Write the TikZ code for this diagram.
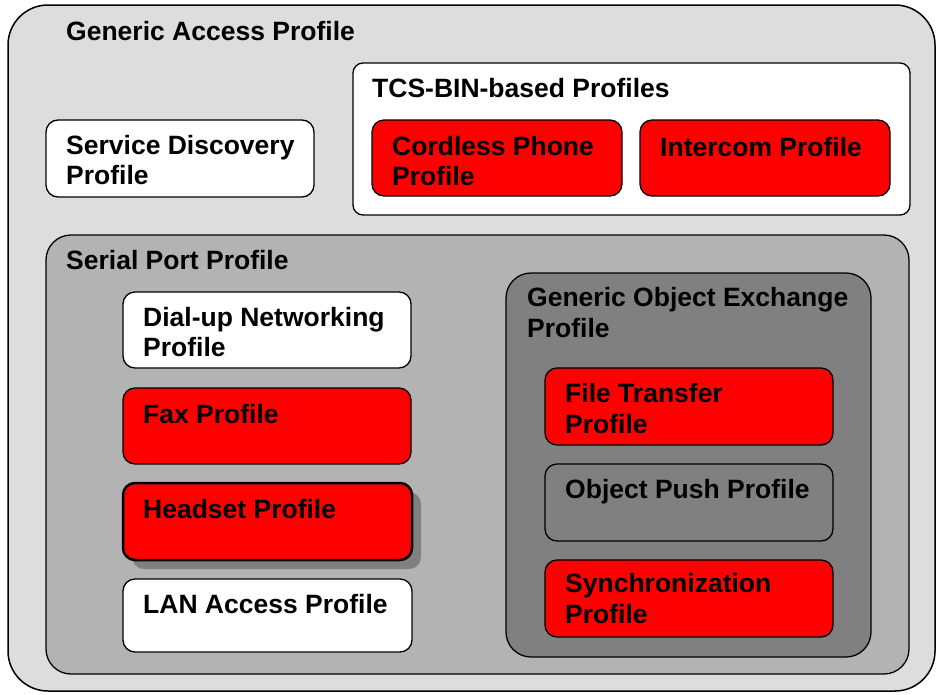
\documentclass[tikz,border=0pt]{standalone}
\usepackage{fontspec}
\setmainfont{Liberation Sans}
\usetikzlibrary{fit,shadows}
\definecolor{gapgray}{HTML}{DDDDDD}
\definecolor{sppgray}{HTML}{B3B3B3}
\definecolor{goepgray}{HTML}{808080}
\definecolor{profred}{HTML}{FF0000}
\begin{document}
\begin{tikzpicture}[x=1pt,y=-1pt,
  frame/.style={draw=black, line width=1.3pt, inner sep=0pt},
  pbox/.style={frame, rounded corners=12pt},
  % multi-line labels sit on the baseline of their last line
  title/.style={anchor=base west, inner sep=0pt, align=left,
    font=\fontsize{26.5}{30.5}\selectfont\bfseries},
]
\useasboundingbox (0,0) rectangle (937,694);

% Generic Access Profile (outermost layer)
\node[frame, line width=1.5pt, rounded corners=40pt, fill=gapgray, fit={(8,5)(935,691)}] (gap) {};
\node[title] (gapT) at (66,40) {Generic Access Profile};

% Service Discovery
\node[pbox, fill=white, fit={(46,120)(314,197)}] (sdp) {};
\node[title] (sdpT) at (66,184.5) {Service Discovery\\Profile};

% TCS-BIN group
\node[frame, rounded corners=10pt, fill=white, fit={(353,63)(910,215)}] (tcs) {};
\node[title] (tcsT) at (372,97) {TCS-BIN-based Profiles};
\node[pbox, fill=profred, fit={(372,120)(622,196)}] (ctp) {};
\node[title] (ctpT) at (392,185.5) {Cordless Phone\\Profile};
\node[pbox, fill=profred, fit={(640,120)(890,196)}] (icp) {};
\node[title] (icpT) at (660,156) {Intercom Profile};

% Serial Port Profile
\node[frame, rounded corners=25pt, fill=sppgray, fit={(46,235)(909,674)}] (spp) {};
\node[title] (sppT) at (66,269) {Serial Port Profile};
\node[pbox, fill=white, fit={(123,292)(411,368)}] (dun) {};
\node[title] (dunT) at (143,356.5) {Dial-up Networking\\Profile};
\node[pbox, fill=profred, fit={(123,388)(411,464)}] (fax) {};
\node[title] (faxT) at (143,423) {Fax Profile};
\node[pbox, fill=profred, line width=2.5pt,
  drop shadow={shadow xshift=9pt, shadow yshift=-9pt, fill=goepgray, opacity=1},
  fit={(123,483)(412,560)}] (hsp) {};
\node[title] (hspT) at (143,518) {Headset Profile};
\node[pbox, fill=white, fit={(123,579)(412,652)}] (lap) {};
\node[title] (lapT) at (143,613) {LAN Access Profile};

% Generic Object Exchange Profile
\node[frame, rounded corners=25pt, fill=goepgray, fit={(506,273)(871,657)}] (goep) {};
\node[title] (goepT) at (527,337) {Generic Object Exchange\\Profile};
\node[pbox, fill=profred, fit={(545,368)(833,445)}] (ftp) {};
\node[title] (ftpT) at (565,433) {File Transfer\\Profile};
\node[pbox, fill=goepgray, fit={(545,464)(833,541)}] (opp) {};
\node[title] (oppT) at (565,498) {Object Push Profile};
\node[pbox, fill=profred, fit={(545,560)(833,637)}] (syn) {};
\node[title] (synT) at (565,623) {Synchronization\\Profile};
\end{tikzpicture}
\end{document}
